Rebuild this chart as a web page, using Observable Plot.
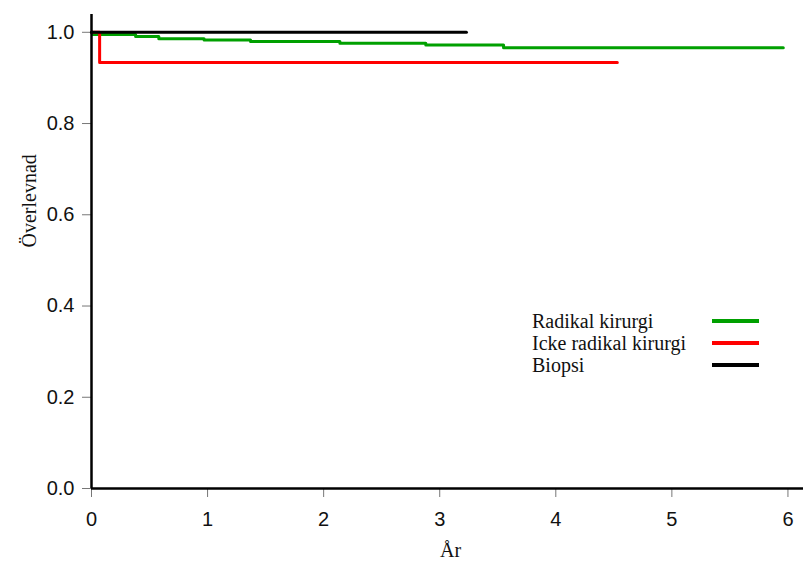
<!DOCTYPE html>
<html>
<head>
<meta charset="utf-8">
<script src="https://cdn.jsdelivr.net/npm/d3@7"></script>
<script src="https://cdn.jsdelivr.net/npm/@observablehq/plot@0.6"></script>
<style>
  html, body { margin: 0; padding: 0; background: #fff; }
  #wrap { position: relative; width: 803px; height: 566px; }
  #legend { position: absolute; left: 0; top: 0; font-family: "Liberation Serif", "Times New Roman", serif; font-size: 20px; line-height: 20px; color: #111; }
  .row { position: absolute; white-space: nowrap; }
  .row span { position: absolute; left: 0; top: 0; transform: translateY(-50%); }
  .row i { position: absolute; height: 4px; transform: translateY(-50%); }
</style>
</head>
<body>
<div id="wrap"><div id="legend"></div></div>
<script>
// Kaplan–Meier survival by treatment group (years since diagnosis)
const groups = ["Radikal kirurgi", "Icke radikal kirurgi", "Biopsi"];
const colors = ["#00a000", "#ff0000", "#000000"];

const radikalTime = [0, 0.01, 0.38, 0.58, 0.97, 1.37, 2.14, 2.88, 3.55, 5.96];
const radikalSurv = [1.0, 0.995, 0.991, 0.986, 0.983, 0.980, 0.976, 0.972, 0.966, 0.966];

const ickeRadikalTime = [0, 0.07, 4.53];
const ickeRadikalSurv = [1.0, 0.934, 0.934];

const biopsiTime = [0, 3.23];
const biopsiSurv = [1.0, 1.0];

const xTicks = [0, 1, 2, 3, 4, 5, 6];
const yTicks = [0, 0.2, 0.4, 0.6, 0.8, 1.0];

const toRows = (group, times, surv) => times.map((t, i) => ({group, time: t, surv: surv[i]}));
const curves = [
  toRows(groups[0], radikalTime, radikalSurv),
  toRows(groups[1], ickeRadikalTime, ickeRadikalSurv),
  toRows(groups[2], biopsiTime, biopsiSurv)
];

const sans = "'Liberation Sans', Arial, sans-serif";
const serif = "'Liberation Serif', 'Times New Roman', serif";

const chart = Plot.plot({
  width: 803,
  height: 566,
  marginLeft: 91,
  marginRight: 0,
  marginTop: 14,
  marginBottom: 78,
  style: {background: "#fff", overflow: "visible"},
  x: {domain: [0, 6.134]},
  y: {domain: [0, 1.039]},
  color: {domain: groups, range: colors},
  marks: [
    Plot.axisX({ticks: xTicks, tickSize: 9, tickPadding: 14, fontSize: 20, fontFamily: sans, stroke: "#777", color: "#111", tickFormat: d => String(d), label: null}),
    Plot.axisY({ticks: yTicks, tickSize: 9, tickPadding: 8, fontSize: 20, fontFamily: sans, stroke: "#777", color: "#111", tickFormat: d3.format(".1f"), label: null}),
    ...curves.map(rows => Plot.line(rows, {x: "time", y: "surv", stroke: "group", strokeWidth: 3, curve: "step-after"})),
    Plot.ruleX([0], {stroke: "#000", strokeWidth: 2.5}),
    Plot.ruleY([0], {stroke: "#000", strokeWidth: 2.5}),
    Plot.text(["År"], {frameAnchor: "bottom", dy: 62, dx: 3, lineAnchor: "middle", fontSize: 20, fontFamily: serif, fill: "#111"}),
    Plot.text(["Överlevnad"], {frameAnchor: "left", dx: -62, dy: -4, rotate: -90, lineAnchor: "middle", fontSize: 20, fontFamily: serif, fill: "#111"})
  ]
});

document.getElementById("wrap").prepend(chart);

// Legend: label on the left, coloured line sample on the right
const legend = document.getElementById("legend");
groups.forEach((g, i) => {
  const row = document.createElement("div");
  row.className = "row";
  row.style.left = "532px";
  row.style.top = (321 + i * 22.2) + "px";
  const label = document.createElement("span");
  label.textContent = g;
  const swatch = document.createElement("i");
  swatch.style.left = "180px";
  swatch.style.width = "47px";
  swatch.style.background = colors[i];
  row.append(label, swatch);
  legend.append(row);
});
</script>
</body>
</html>
